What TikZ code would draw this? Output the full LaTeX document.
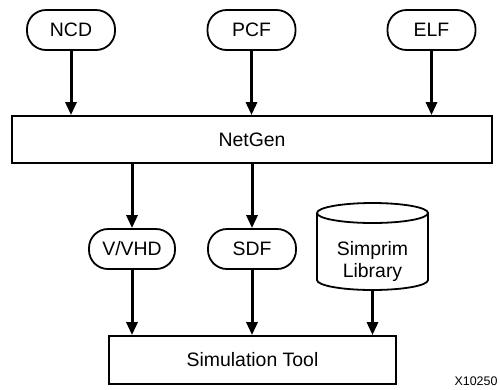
\documentclass[tikz,border=0pt]{standalone}
\usepackage{fontspec}
\setmainfont{Liberation Sans}
\usetikzlibrary{arrows.meta}
\begin{document}
\begin{tikzpicture}[x=1bp,y=-1bp,
  pill/.style={draw,line width=1.8bp,rounded corners=19bp,minimum width=88bp,minimum height=40bp,inner sep=0pt,font=\fontsize{19.5}{22}\selectfont},
  rectbox/.style={draw,line width=1.8bp,inner sep=0pt,font=\fontsize{19.5}{22}\selectfont},
  flow/.style={line width=3bp,-{Triangle[length=13bp,width=11bp]}}]
\useasboundingbox (0,0) rectangle (500,389);
\node[pill] (ncd) at (71,30) {NCD};
\node[pill] (pcf) at (251.5,30) {PCF};
\node[pill] (elf) at (431.5,30) {ELF};
\node[rectbox,minimum width=480bp,minimum height=47bp] (netgen) at (252,139.5) {NetGen};
\node[pill,minimum width=86bp] (vhd) at (132,249) {V/VHD};
\node[pill] (sdf) at (252,249) {SDF};
% cylinder
\draw[line width=1.8bp] (317,213) -- (317,280) arc[start angle=180,end angle=0,x radius=55.5,y radius=10] -- (428,213);
\draw[line width=1.8bp] (372.5,213) ellipse[x radius=55.5,y radius=10];
\node[font=\fontsize{19.5}{22}\selectfont,align=center] (lib) at (372.5,261.5) {Simprim\\Library};
\coordinate (libb) at (372.5,290);
\node[rectbox,minimum width=287bp,minimum height=48bp] (sim) at (252.5,360) {Simulation Tool};
\node[font=\fontsize{12.5}{14}\selectfont] (xid) at (476,381) {X10250};
\draw[flow] (ncd.south) -- (ncd.south |- netgen.north);
\draw[flow] (pcf.south) -- (pcf.south |- netgen.north);
\draw[flow] (elf.south) -- (elf.south |- netgen.north);
\draw[flow] (vhd.north |- netgen.south) -- (vhd.north);
\draw[flow] (sdf.north |- netgen.south) -- (sdf.north);
\draw[flow] (vhd.south) -- (vhd.south |- sim.north);
\draw[flow] (sdf.south) -- (sdf.south |- sim.north);
\draw[flow] (libb) -- (libb |- sim.north);
\end{tikzpicture}
\end{document}
